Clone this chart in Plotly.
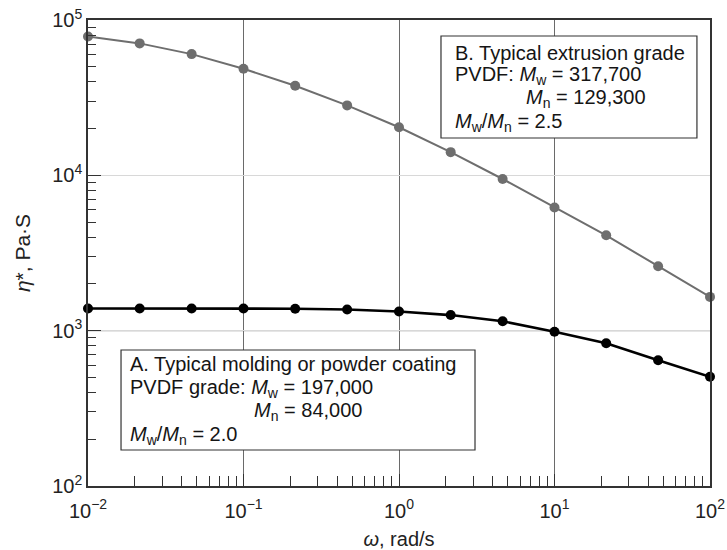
import plotly.graph_objects as go

# Angular frequency, rad/s
omega = [0.01, 0.0215, 0.0464, 0.1, 0.215, 0.464, 1, 2.15, 4.64, 10, 21.5, 46.4, 100]
# Complex viscosity, Pa·s
eta_extrusion = [78400, 70700, 60300, 48500, 37700, 28200, 20400, 14100, 9470, 6200, 4110, 2600, 1650]
eta_molding = [1390, 1390, 1390, 1390, 1385, 1370, 1330, 1260, 1150, 985, 830, 645, 505]

x_tickvals = [0.01, 0.1, 1, 10, 100]
x_ticktext = ["10<sup>−2</sup>", "10<sup>−1</sup>", "10<sup>0</sup>", "10<sup>1</sup>", "10<sup>2</sup>"]
y_tickvals = [100, 1000, 10000, 100000]
y_ticktext = ["10<sup>2</sup>", "10<sup>3</sup>", "10<sup>4</sup>", "10<sup>5</sup>"]

# minor log ticks at 2..9 within each decade
x_minor = [m * d for d in x_tickvals[:-1] for m in range(2, 10)]
y_minor = [m * d for d in y_tickvals[:-1] for m in range(2, 10)]

# Legend-box text, one entry per line
box_b_lines = [
    "B. Typical extrusion grade",
    "PVDF: <i>M</i><sub>w</sub> = 317,700",
    "<i>M</i><sub>n</sub> = 129,300",
    "<i>M</i><sub>w</sub>/<i>M</i><sub>n</sub> = 2.5",
]
box_a_lines = [
    "A. Typical molding or powder coating",
    "PVDF grade: <i>M</i><sub>w</sub> = 197,000",
    "<i>M</i><sub>n</sub> = 84,000",
    "<i>M</i><sub>w</sub>/<i>M</i><sub>n</sub> = 2.0",
]

FONT = "Liberation Sans, Arial, sans-serif"
TXT = "#151515"

fig = go.Figure()

fig.add_trace(go.Scatter(
    x=omega, y=eta_extrusion, mode="lines+markers",
    line=dict(color="#6e6e6e", width=2),
    marker=dict(color="#6e6e6e", size=10),
    cliponaxis=False, showlegend=False,
))
fig.add_trace(go.Scatter(
    x=omega, y=eta_molding, mode="lines+markers",
    line=dict(color="#000000", width=2.6),
    marker=dict(color="#000000", size=10),
    cliponaxis=False, showlegend=False,
))

# darker reference line at 10^3
fig.add_shape(type="line", xref="paper", yref="y", x0=0, x1=1, y0=1000, y1=1000,
              line=dict(color="#5a5a5a", width=1), layer="below")


def text_box(lines, x0, x1, y0, y1, text_x, indent_x, line_ys):
    fig.add_shape(type="rect", xref="paper", yref="paper", x0=x0, x1=x1, y0=y0, y1=y1,
                  line=dict(color="#333", width=1.2), fillcolor="white", layer="above")
    for i, (txt, ly) in enumerate(zip(lines, line_ys)):
        fig.add_annotation(text=txt, xref="paper", yref="paper",
                           x=indent_x if i == 2 else text_x, y=ly,
                           xanchor="left", yanchor="middle", align="left", showarrow=False,
                           font=dict(family=FONT, size=20, color=TXT))


text_box(box_b_lines, 0.5675, 0.979, 0.7468, 0.9657, 0.5868, 0.7010,
         [0.929, 0.880, 0.831, 0.781])
text_box(box_a_lines, 0.0531, 0.6222, 0.0773, 0.2918, 0.0643, 0.2637,
         [0.2618, 0.2103, 0.1609, 0.1094])

fig.update_xaxes(
    type="log", range=[-2, 2], tickvals=x_tickvals, ticktext=x_ticktext,
    showline=True, linecolor="#333", linewidth=1.5, mirror=True,
    ticks="inside", ticklen=12, tickcolor="#333", tickwidth=1,
    minor=dict(tickvals=x_minor, ticks="inside", ticklen=10, tickcolor="#333",
               tickwidth=1, showgrid=False),
    showgrid=True, gridcolor="#6a6a6a", gridwidth=1,
    tickfont=dict(family=FONT, size=20, color="#222"), ticklabelstandoff=6,
    title=dict(text="<i>ω</i>, rad/s", font=dict(family=FONT, size=20, color="#222"), standoff=12),
    zeroline=False,
)
fig.update_yaxes(
    type="log", range=[2, 5], tickvals=y_tickvals, ticktext=y_ticktext,
    showline=True, linecolor="#333", linewidth=1.5, mirror=True,
    ticks="inside", ticklen=13, tickcolor="#333", tickwidth=1,
    minor=dict(tickvals=y_minor, ticks="inside", ticklen=8, tickcolor="#333",
               tickwidth=1, showgrid=False),
    showgrid=True, gridcolor="#d8d8d8", gridwidth=1,
    tickfont=dict(family=FONT, size=20, color="#222"),
    title=dict(text="<i>η</i>*, Pa·S", font=dict(family=FONT, size=21, color="#222"), standoff=16),
    zeroline=False,
)

fig.update_layout(
    width=727, height=550,
    margin=dict(l=88, r=17, t=20, b=64, autoexpand=False),
    plot_bgcolor="white", paper_bgcolor="white",
    font=dict(family=FONT),
)

fig.write_html("out.html")
